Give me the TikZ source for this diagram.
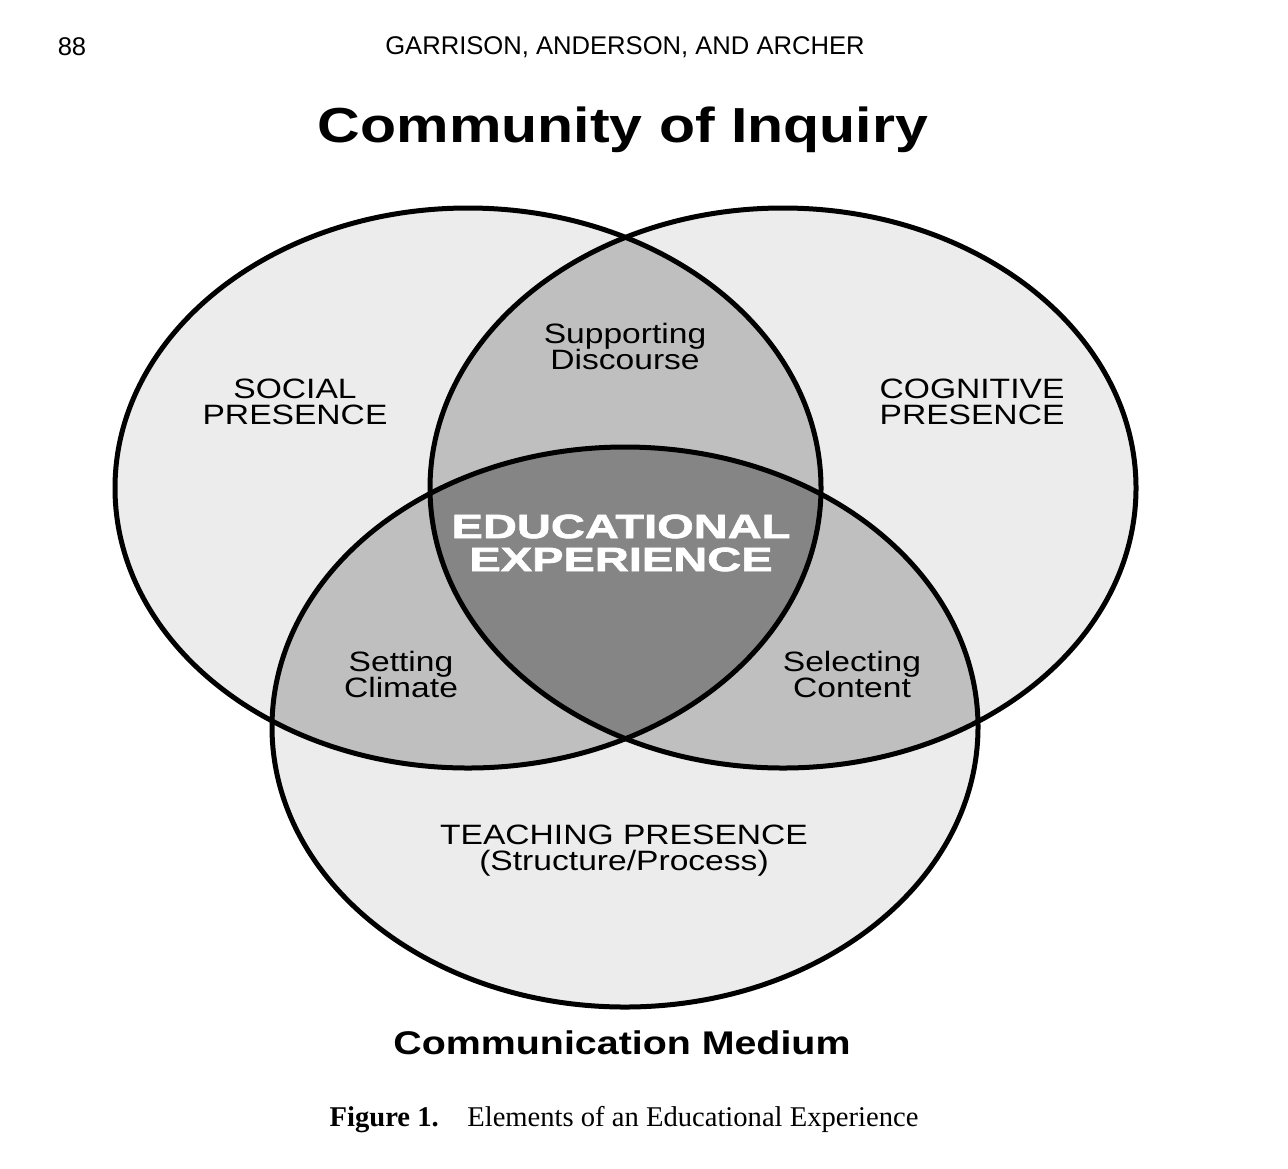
\documentclass[tikz,border=0pt]{standalone}
\usepackage{fontspec}
\setmainfont{Liberation Serif}
\setsansfont{Liberation Sans}
\newfontfamily\widefont[FakeStretch=1.2]{Liberation Sans}
\newfontfamily\heavyfont[FakeStretch=1.4,FakeBold=2]{Liberation Sans Bold}
\newcommand{\tightlines}{\lineskiplimit=-10pt\relax}
\usepackage{tikz}
\definecolor{coiouter}{gray}{0.925}
\definecolor{coipair}{gray}{0.75}
\definecolor{coicore}{gray}{0.52}
\tikzset{
  rim/.style={draw=black, line width=2.5pt},
  headtext/.style={inner sep=0pt, font=\sffamily\fontsize{12.8}{14}\selectfont},
  titletext/.style={inner sep=0pt, font=\widefont\bfseries\fontsize{24.6}{28}\selectfont},
  presence/.style={inner sep=0pt, align=center,
    font=\widefont\fontsize{14}{13}\selectfont\tightlines},
  coretext/.style={inner sep=0pt, align=center, text=white,
    font=\heavyfont\fontsize{16.8}{16.5}\selectfont\tightlines},
  capline/.style={inner sep=0pt, font=\rmfamily\fontsize{14.3}{17}\selectfont}
}
\newcommand{\socialpath}{(468,488) ellipse [x radius=353, y radius=280]}
\newcommand{\cognitivepath}{(783,488) ellipse [x radius=353, y radius=280]}
\newcommand{\teachingpath}{(625,727) ellipse [x radius=353, y radius=280]}

\begin{document}
\begin{tikzpicture}[x=0.5pt,y=-0.5pt]
  \useasboundingbox (0,0) rectangle (1288,1168);
  % single presences
  \fill[coiouter] \socialpath;
  \fill[coiouter] \cognitivepath;
  \fill[coiouter] \teachingpath;
  % overlaps of two
  \begin{scope}
    \clip \socialpath;
    \fill[coipair] \cognitivepath;
    \fill[coipair] \teachingpath;
  \end{scope}
  \begin{scope}
    \clip \cognitivepath;
    \fill[coipair] \teachingpath;
  \end{scope}
  % overlap of all three
  \begin{scope}
    \clip \socialpath;
    \clip \cognitivepath;
    \fill[coicore] \teachingpath;
  \end{scope}
  \draw[rim] \socialpath;
  \draw[rim] \cognitivepath;
  \draw[rim] \teachingpath;

  \node[headtext] (pageno) at (72,47) {88};
  \node[headtext] (running) at (625,47) {GARRISON, ANDERSON, AND ARCHER};
  \node[titletext] (title) at (623,130) {Community of Inquiry};

  \node[presence] (social) at (295,402) {SOCIAL\\PRESENCE};
  \node[presence] (cognitive) at (972,402) {COGNITIVE\\PRESENCE};
  \node[presence] (discourse) at (625,346) {Supporting\\Discourse};
  \node[coretext] (core) at (621,543) {EDUCATIONAL\\EXPERIENCE};
  \node[presence] (climate) at (401,674) {Setting\\Climate};
  \node[presence] (content) at (852,674) {Selecting\\Content};
  \node[presence] (teaching) at (624,851) {TEACHING PRESENCE\\(Structure/Process)};

  \node[titletext, font=\widefont\bfseries\fontsize{16.4}{18}\selectfont] (medium) at (622,1043) {Communication Medium};
  \node[capline] (caption) at (624,1120) {\textbf{Figure 1.}\quad Elements of an Educational Experience};
\end{tikzpicture}
\end{document}
